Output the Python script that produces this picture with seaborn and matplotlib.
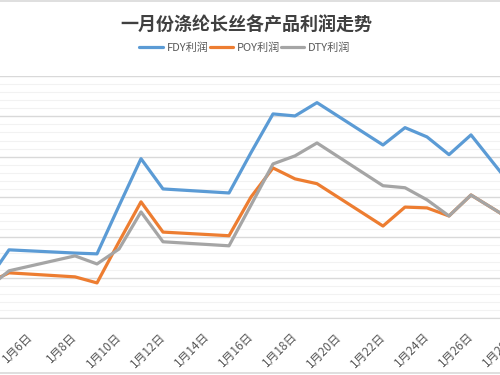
import matplotlib
matplotlib.use("Agg")
import matplotlib.pyplot as plt
from matplotlib.lines import Line2D
from matplotlib.ticker import MultipleLocator
import numpy as np
import pandas as pd
import seaborn as sns

# 一月份各产品利润
days = [4, 5, 8, 9, 10, 11, 12, 15, 16, 17, 18, 19, 22, 23, 24, 25, 26, 29]
fdy = [450, 845, 805, 795, 1390, 1975, 1600, 1550, 2050, 2530, 2505, 2670,
       2145, 2360, 2245, 2025, 2270, 1240]
poy = [430, 560, 510, 435, 945, 1440, 1065, 1020, 1500, 1860, 1725, 1665,
       1140, 1375, 1365, 1265, 1525, 1020]
dty = [360, 585, 770, 670, 855, 1315, 945, 895, 1400, 1910, 2010, 2170,
       1640, 1615, 1465, 1265, 1525, 1020]
series_names = ["FDY利润", "POY利润", "DTY利润"]
colors = ["#5B9BD5", "#ED7D31", "#A5A5A5"]
label_days = list(range(6, 29, 2))
tick_labels = ["1月%d日" % d for d in label_days]

df = pd.DataFrame({"day": days * 3,
                   "profit": fdy + poy + dty,
                   "product": np.repeat(series_names, len(days))})

sns.set_style("white")
plt.rcParams["font.family"] = ["Noto Sans CJK SC", "DejaVu Sans"]

fig = plt.figure(figsize=(5, 3.75), dpi=100)
ax = fig.add_axes([-0.048, 0.152, 1.144, 0.6453])

sns.lineplot(data=df, x="day", y="profit", hue="product",
             hue_order=series_names, palette=colors, linewidth=2.3,
             sort=True, ax=ax)

ax.set_xlim(3.5, 29.5)
ax.set_ylim(0, 3000)
ax.yaxis.set_major_locator(MultipleLocator(500))
ax.yaxis.set_minor_locator(MultipleLocator(100))
ax.grid(axis="y", which="major", color="#D9D9D9", linewidth=1.0)
ax.grid(axis="y", which="minor", color="#F2F2F2", linewidth=0.8)
ax.set_axisbelow(True)
ax.tick_params(axis="y", which="both", left=False, labelleft=False)

ax.set_xticks(label_days)
ax.set_xticklabels(tick_labels, rotation=45, ha="right", va="center",
                   rotation_mode="anchor", fontsize=8.5, color="#595959")
ax.set_xticks(np.arange(5.5, 29, 2), minor=True)
ax.tick_params(axis="x", which="major", length=0, pad=12)
ax.tick_params(axis="x", which="minor", length=3, color="#D9D9D9", width=1)

for s in ["top", "left", "right"]:
    ax.spines[s].set_visible(False)
ax.spines["bottom"].set_color("#D9D9D9")
ax.set_xlabel("")
ax.set_ylabel("")

handles, labels = ax.get_legend_handles_labels()
ax.get_legend().remove()
fig.legend(handles, labels, loc="center", bbox_to_anchor=(0.49, 0.872),
           ncol=3, frameon=False, fontsize=8, handlelength=2.1,
           handletextpad=0.35, columnspacing=0.1, labelcolor="#595959")

fig.text(0.492, 0.933, "一月份涤纶长丝各产品利润走势", ha="center", va="center",
         fontsize=13, fontweight="bold", color="#404040")

# chart area border (top and bottom visible in the crop)
fig.add_artist(Line2D([0, 1], [0.997, 0.997], color="#D9D9D9", linewidth=1.2))
fig.add_artist(Line2D([0, 1], [0.0053, 0.0053], color="#D9D9D9", linewidth=1.2))

fig.savefig("out.png", dpi=100)
